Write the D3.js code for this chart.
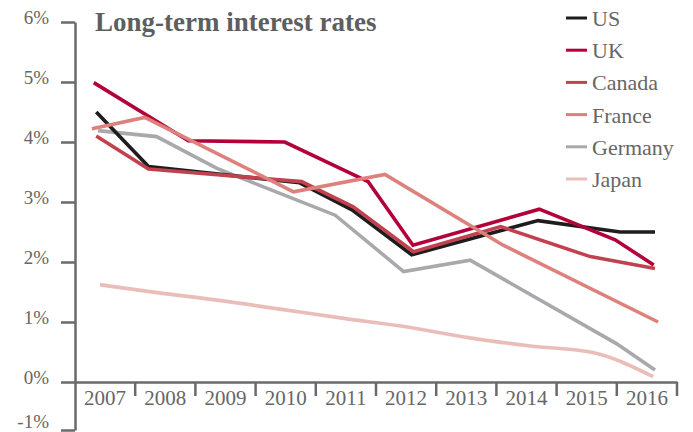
<!DOCTYPE html>
<html>
<head>
<meta charset="utf-8">
<script src="https://cdn.jsdelivr.net/npm/d3@7"></script>
<style>
  html, body { margin: 0; padding: 0; background: #fff; }
  svg { display: block; }
</style>
</head>
<body>
<svg id="chart" width="693" height="432"></svg>
<script>
// ---- Data (year position, percent) ----
const years = [2007, 2008, 2009, 2010, 2011, 2012, 2013, 2014, 2015, 2016];
const yTicks = [-1, 0, 1, 2, 3, 4, 5, 6];
const countries = ["US", "UK", "Canada", "France", "Germany", "Japan"];
const colors = ["#1e1c1d", "#b3003a", "#c2414f", "#dc817b", "#a9a9ad", "#ebbdb8"];

const US = [[2007.02, 4.50], [2007.86, 3.59], [2010.29, 3.32], [2011.13, 2.87], [2012.09, 2.12], [2014.12, 2.69], [2015.44, 2.50], [2016.0, 2.50]];
const UK = [[2006.98, 4.99], [2008.50, 4.02], [2010.05, 4.00], [2011.39, 3.34], [2012.11, 2.28], [2014.14, 2.88], [2015.36, 2.37], [2015.98, 1.95]];
const Canada = [[2007.02, 4.10], [2007.86, 3.55], [2010.32, 3.34], [2011.15, 2.92], [2012.12, 2.17], [2013.52, 2.59], [2014.96, 2.09], [2016.0, 1.89]];
const France = [[2006.95, 4.22], [2007.80, 4.41], [2010.19, 3.17], [2011.66, 3.46], [2013.56, 2.28], [2016.05, 1.00]];
const Germany = [[2007.05, 4.19], [2007.99, 4.09], [2008.96, 3.56], [2010.86, 2.78], [2011.96, 1.84], [2013.03, 2.03], [2015.38, 0.64], [2016.0, 0.20]];
const Japan = [[2007.08, 1.62], [2008, 1.49], [2009, 1.36], [2010, 1.21], [2011, 1.06], [2012, 0.92], [2013, 0.74], [2014, 0.60], [2015, 0.49], [2015.97, 0.09]];

const seriesData = { US, UK, Canada, France, Germany, Japan };
const drawOrder = ["Japan", "Germany", "US", "Canada", "UK", "France"];

// ---- Layout ----
const svg = d3.select("#chart");
const axisColor = "#6a6a6a";
const textColor = "#666666";
const serif = "'Liberation Serif', 'Times New Roman', serif";

const y = d3.scaleLinear().domain([-1, 0, 6]).range([430, 382, 22]);
const xBand = d3.scaleBand().domain(years).range([75, 677]).padding(0);
const xLine = d3.scaleLinear().domain([2007, 2016]).range([95, 655]);
const color = d3.scaleOrdinal().domain(countries).range(colors);

// Y axis
const yAxis = svg.append("g")
  .attr("transform", "translate(75,0)")
  .call(d3.axisLeft(y).tickValues(yTicks).tickFormat(d => d + "%").tickSize(14).tickSizeOuter(0).tickPadding(12));
yAxis.select(".domain").attr("stroke", axisColor).attr("stroke-width", 2.5);
yAxis.selectAll(".tick line").attr("stroke", axisColor).attr("stroke-width", 2.5);
yAxis.selectAll(".tick text")
  .attr("fill", textColor).attr("dy", d => d < 0 ? "-0.12em" : "0.08em")
  .style("font-family", serif).style("font-size", "19px");

// X axis (category separators + labels)
const y0 = y(0);
const xAxis = svg.append("g")
  .attr("transform", `translate(0,${y0})`)
  .call(d3.axisBottom(xBand).tickSize(0).tickPadding(8));
xAxis.select(".domain").attr("stroke", axisColor).attr("stroke-width", 2.5);
xAxis.selectAll(".tick text")
  .attr("fill", textColor)
  .style("font-family", serif).style("font-size", "21px");
svg.append("g").selectAll("line")
  .data(years)
  .join("line")
  .attr("x1", d => xBand(d) + xBand.bandwidth())
  .attr("x2", d => xBand(d) + xBand.bandwidth())
  .attr("y1", y0)
  .attr("y2", y0 + 14)
  .attr("stroke", axisColor)
  .attr("stroke-width", 2.5);

// Lines
const lineStraight = d3.line().x(d => xLine(d[0])).y(d => y(d[1]));
const lineSmooth = d3.line().x(d => xLine(d[0])).y(d => y(d[1])).curve(d3.curveMonotoneX);

svg.append("g").selectAll("path")
  .data(drawOrder)
  .join("path")
  .attr("d", k => (k === "Japan" ? lineSmooth : lineStraight)(seriesData[k]))
  .attr("fill", "none")
  .attr("stroke", k => color(k))
  .attr("stroke-width", 3.6)
  .attr("stroke-linejoin", "miter")
  .attr("stroke-linecap", "butt");

// Title
svg.append("text")
  .attr("x", 95).attr("y", 31)
  .attr("fill", "#5e5e5e")
  .style("font-family", serif).style("font-size", "27px").style("font-weight", "bold")
  .text("Long-term interest rates");

// Legend
const legend = svg.append("g").selectAll("g")
  .data(countries)
  .join("g")
  .attr("transform", (d, i) => `translate(566,${18 + i * 32.2})`);
legend.append("line")
  .attr("x1", 0).attr("x2", 21).attr("y1", 0).attr("y2", 0)
  .attr("stroke", d => color(d)).attr("stroke-width", 3);
legend.append("text")
  .attr("x", 26).attr("y", 8)
  .attr("fill", textColor)
  .style("font-family", serif).style("font-size", "22px")
  .text(d => d);
</script>
</body>
</html>
